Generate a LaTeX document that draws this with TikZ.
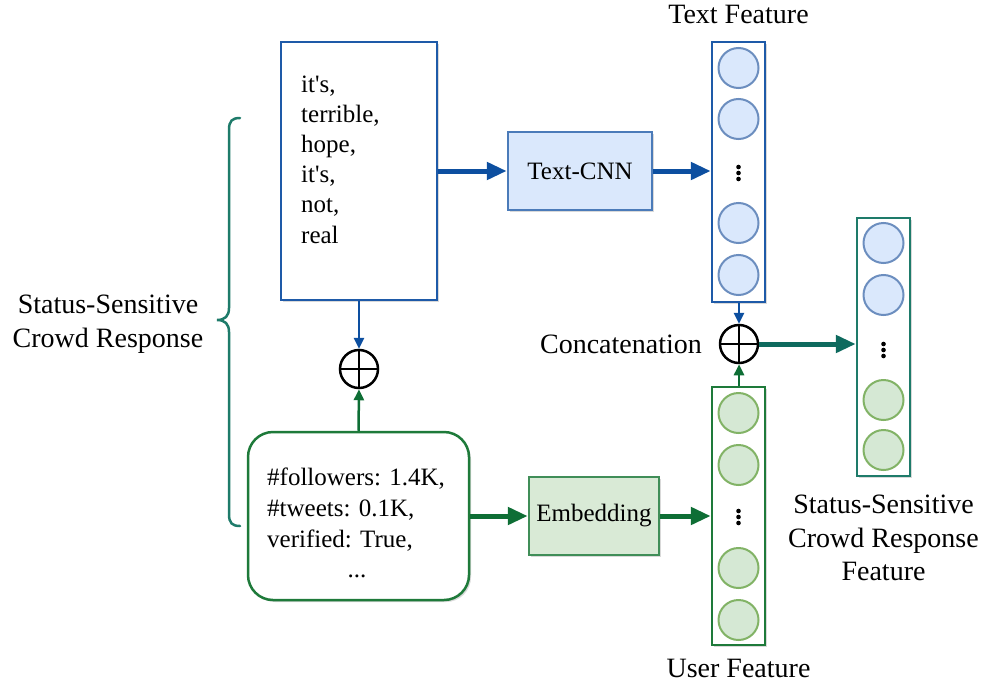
\documentclass[tikz,border=0pt]{standalone}
\usepackage{fontspec}
\setmainfont{Liberation Serif}
\usetikzlibrary{arrows.meta,shadows}
\definecolor{bline}{HTML}{1E5AA8}
\definecolor{bfill}{HTML}{DAE8FC}
\definecolor{cbline}{HTML}{6C8EBF}
\definecolor{gline}{HTML}{1E7A3A}
\definecolor{gfill}{HTML}{D9EAD6}
\definecolor{cgline}{HTML}{82B366}
\definecolor{cgfill}{HTML}{D5E8D4}
\definecolor{tline}{HTML}{1E7B6A}
\definecolor{barrow}{HTML}{0D4FA0}
\definecolor{garrow}{HTML}{0E6E35}
\definecolor{tarrow}{HTML}{0E6A5E}
\begin{document}
\begin{tikzpicture}[x=1pt,y=-1pt,
  shad/.style={drop shadow={shadow xshift=2pt,shadow yshift=-2pt,opacity=0.25,fill=black!60}},
  box/.style={draw, line width=2.5pt, inner sep=0pt, shad},
  lab/.style={font=\fontsize{28}{34}\selectfont, inner sep=0pt},
  btxt/.style={font=\fontsize{25}{31}\selectfont, inner sep=0pt},
  cb/.style={circle, draw=cbline, fill=bfill, line width=2pt, minimum size=40pt, inner sep=0pt},
  cg/.style={circle, draw=cgline, fill=cgfill, line width=2pt, minimum size=40pt, inner sep=0pt},
  oplusn/.style={circle, draw, line width=2.5pt, minimum size=38pt, inner sep=0pt, fill=white,
    path picture={\draw[line width=2.5pt] (path picture bounding box.north) -- (path picture bounding box.south)
      (path picture bounding box.west) -- (path picture bounding box.east);}},
  thickarrow/.style={line width=5pt, -{Triangle[length=20pt,width=17pt]}},
  thinarrow/.style={line width=2.5pt, -{Triangle[length=11pt,width=10pt]}},
]
\useasboundingbox (0,0) rectangle (984,685);
\newcommand{\vdotsat}[1]{\fill (#1) ++(0,-6) circle (2.3pt) (#1) circle (2.3pt) (#1) ++(0,6) circle (2.3pt);}

% text box
\node[box, draw=bline, fill=white, minimum width=156pt, minimum height=258pt] (tbox) at (359,171) {};
\node[btxt, anchor=base west] (w1) at (301,92) {it\textquotesingle s,};
\node[btxt, anchor=base west] (w2) at (301,122.2) {terrible,};
\node[btxt, anchor=base west] (w3) at (301,152.4) {hope,};
\node[btxt, anchor=base west] (w4) at (301,182.6) {it\textquotesingle s,};
\node[btxt, anchor=base west] (w5) at (301,212.8) {not,};
\node[btxt, anchor=base west] (w6) at (301,243) {real};

% Text-CNN
\node[box, draw=bline!80, fill=bfill, minimum width=144pt, minimum height=78pt, btxt] (cnn) at (580,171) {Text-CNN};

% user box
\node[box, draw=gline, fill=white, rounded corners=25pt, minimum width=221pt, minimum height=168pt] (ubox) at (358.5,516) {};
\node[btxt, anchor=base west] (u1) at (267,485) {\#followers: 1.4K,};
\node[btxt, anchor=base west] (u2) at (267,516) {\#tweets: 0.1K,};
\node[btxt, anchor=base west] (u3) at (267,547) {verified: True,};
\node[btxt, anchor=base] (u4) at (357,577) {...};

% Embedding
\node[box, draw=gline!85, fill=gfill, minimum width=130pt, minimum height=78pt, btxt] (emb) at (594,516) {Embedding};

% text feature vector
\node[box, draw=bline, fill=white, minimum width=53pt, minimum height=260pt] (tvec) at (738.5,172) {};
\node[cb] (tc1) at (738.5,68) {};
\node[cb] (tc2) at (738.5,119) {};
\coordinate (tcd) at (738.5,173);
\vdotsat{tcd}
\node[cb] (tc3) at (738.5,223) {};
\node[cb] (tc4) at (738.5,275) {};
\node[lab, anchor=base] (tlab) at (738.5,24) {Text Feature};

% user feature vector
\node[box, draw=gline, fill=white, minimum width=53pt, minimum height=258pt] (uvec) at (738.5,516) {};
\node[cg] (uc1) at (738.5,413) {};
\node[cg] (uc2) at (738.5,465) {};
\coordinate (ucd) at (738.5,517);
\vdotsat{ucd}
\node[cg] (uc3) at (738.5,568) {};
\node[cg] (uc4) at (738.5,620) {};
\node[lab, anchor=base] (ulab) at (738.5,677) {User Feature};

% final vector
\node[box, draw=tline, fill=white, minimum width=53pt, minimum height=258pt] (fvec) at (883.5,347) {};
\node[cb] (fc1) at (883.5,243) {};
\node[cb] (fc2) at (883.5,295) {};
\coordinate (fcd) at (883.5,350);
\vdotsat{fcd}
\node[cg] (fc3) at (883.5,400) {};
\node[cg] (fc4) at (883.5,450) {};
\node[lab, anchor=base] (fl1) at (883.5,513) {Status-Sensitive};
\node[lab, anchor=base] (fl2) at (883.5,547) {Crowd Response};
\node[lab, anchor=base] (fl3) at (883.5,580) {Feature};

% oplus nodes
\node[oplusn] (op1) at (359,369) {};
\node[oplusn] (op2) at (739,344) {};
\node[lab, anchor=base east] (clab) at (702,353) {Concatenation};

% left label and brace
\draw[tline, line width=2.5pt, line cap=round]
  (240,118) .. controls (232,118) and (229,121) .. (229,130) -- (229,308)
  .. controls (229,316) and (225,320) .. (217,320)
  .. controls (225,320) and (229,324) .. (229,332) -- (229,514)
  .. controls (229,523) and (232,526) .. (240,526);
\node[lab, anchor=base] (sl1) at (108,313) {Status-Sensitive};
\node[lab, anchor=base] (sl2) at (108,347) {Crowd Response};

% connectors
\draw[thickarrow, barrow] (tbox.east |- cnn.west) -- (cnn.west);
\draw[thickarrow, barrow] (cnn.east) -- (cnn.east -| tvec.west);
\draw[thickarrow, garrow] (ubox.east) -- (emb.west);
\draw[thickarrow, garrow] (emb.east) -- (emb.east -| uvec.west);
\draw[thickarrow, tarrow] (op2.east) -- (op2.east -| fvec.west);
\draw[thinarrow, barrow] (tbox.south) -- (op1.north);
\draw[thinarrow, garrow] (ubox.north) -- (op1.south);
\draw[thinarrow, barrow] (tvec.south -| op2) -- (op2.north);
\draw[thinarrow, garrow] (uvec.north -| op2) -- (op2.south);
\end{tikzpicture}
\end{document}
